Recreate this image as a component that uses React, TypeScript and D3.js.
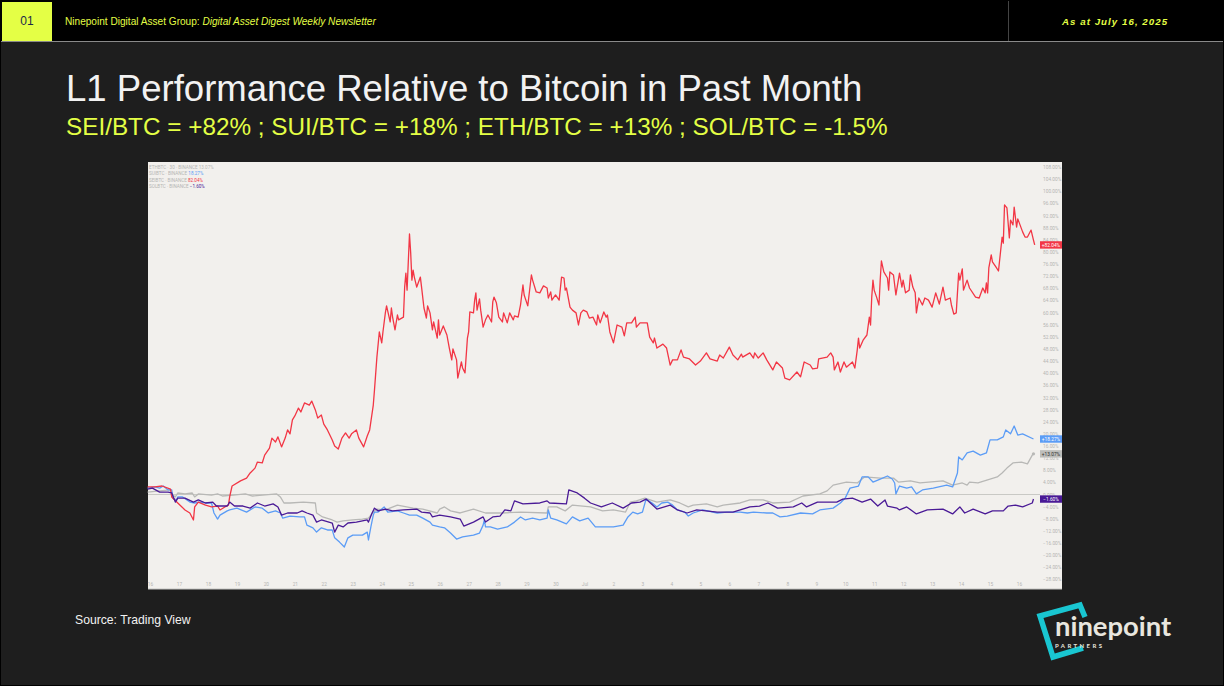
import { useEffect, useRef } from 'react';
import * as d3 from 'd3';

// [hours since Jun 16 00:00 UTC, % change]
const ethPoints: [number, number][] = [
  [-2,0.8],[8,1.2],[17,1.5],[19,-0.2],[21,-0.8],[23,0.5],[29,0.2],[35,0.5],[37,-0.8],[40,0.2],[51,-0.2],[56,0.2],[60,-0.5],[69,-0.2],[79,0.2],[85,-0.5],[105,0.2],[108,-0.8],[111,-2.8],[116,-2.8],[127,-2.5],[137,-2.8],[138,-6.1],[143,-7.4],[151,-8.4],[155,-9.1],[160,-8.7],[168,-8.4],[176,-8.1],[181,-7.8],[185,-5.8],[188,-4.8],[195,-5.1],[205,-3.5],[218,-4.5],[226,-4.8],[238,-6.1],[240,-4.8],[244,-4.1],[249,-5.4],[257,-6.1],[268,-4.8],[278,-6.1],[292,-6.1],[307,-5.8],[329,-6.1],[330,-4.1],[337,-4.1],[344,-5.4],[350,-3.5],[365,-4.1],[375,-5.4],[384,-5.1],[394,-5.8],[398,-2.5],[403,-2.1],[410,-1.2],[420,-2.5],[431,-1.8],[439,-2.8],[446,-4.1],[450,-3.5],[461,-3.1],[470,-4.1],[475,-3.5],[489,-2.8],[497,-1.8],[508,-1.8],[516,-2.8],[530,-2.5],[541,-0.5],[555,0.2],[561,1.2],[566,3.1],[577,4.1],[586,3.8],[592,5.8],[605,5.4],[616,5.4],[620,4.1],[630,4.5],[638,3.8],[657,4.5],[665,3.1],[673,3.8],[677,3.1],[679,4.1],[686,3.8],[694,4.8],[702,5.8],[706,7.1],[710,8.7],[715,10.4],[722,10.7],[727,10.1],[731,13],[732,13.4],
];

const suiPoints: [number, number][] = [
  [-2,2.1],[4,2.5],[8,2.1],[11,2.8],[15,1.5],[18,1.5],[19,-1.2],[22,-1.8],[23,-0.8],[27,-0.8],[33,-2.5],[37,-2.8],[41,-2.5],[47,-2.8],[51,-2.8],[53,-6.1],[56,-8.1],[58,-6.8],[64,-5.4],[66,-5.1],[72,-4.5],[80,-5.8],[87,-4.1],[93,-4.5],[98,-6.1],[104,-5.4],[108,-6.1],[110,-7.8],[116,-7.1],[124,-7.4],[128,-7.4],[130,-10.1],[135,-11],[138,-12.4],[142,-11],[147,-11.7],[151,-11.7],[153,-14.3],[157,-15.7],[161,-17.3],[164,-14.3],[168,-13.4],[176,-13.4],[180,-12.4],[181,-15],[183,-10.7],[185,-6.8],[186,-5.8],[189,-5.8],[194,-4.1],[197,-5.8],[205,-5.4],[210,-6.1],[215,-6.8],[221,-6.8],[226,-7.8],[232,-9.1],[234,-10.1],[240,-10.7],[244,-11],[249,-12.7],[254,-14.7],[259,-14],[268,-13.4],[273,-12.7],[276,-10.1],[277,-8.4],[278,-10.7],[282,-10.7],[288,-11.4],[296,-10.7],[302,-9.1],[307,-7.4],[311,-8.4],[317,-7.8],[323,-8.4],[329,-7.8],[330,-5.1],[332,-7.8],[337,-8.4],[345,-9.7],[350,-7.4],[356,-8.7],[363,-7.8],[369,-10.7],[375,-10.7],[384,-10.7],[392,-10.1],[396,-7.4],[400,-5.8],[404,-6.4],[408,-5.8],[411,-1.5],[416,-2.8],[420,-4.1],[424,-2.8],[429,-2.5],[433,-3.5],[437,-5.1],[443,-5.8],[446,-7.1],[450,-6.1],[458,-5.1],[470,-6.1],[478,-5.8],[489,-5.8],[495,-6.1],[500,-5.8],[511,-6.1],[516,-6.1],[522,-7.4],[528,-7.1],[539,-6.1],[549,-6.4],[555,-5.1],[566,-4.5],[572,-2.8],[576,-1.2],[580,2.1],[587,2.8],[590,5.8],[595,5.8],[599,4.1],[605,5.1],[611,6.1],[615,5.1],[617,3.8],[618,0.2],[621,2.8],[627,2.1],[631,2.5],[635,0.2],[640,1.5],[649,2.1],[660,3.1],[665,2.5],[669,7.1],[670,12.4],[673,11.4],[677,13.7],[682,14.3],[688,13],[693,13.7],[696,18],[702,18],[707,19],[709,21.3],[713,20],[716,22.6],[719,19.6],[723,20],[732,18.3],
];

const seiPoints: [number, number][] = [
  [-2,2.5],[4,2.5],[10,2.8],[17,1.8],[18,-0.8],[23,-2.8],[29,-5.1],[33,-6.1],[36,-8.4],[37,-4.1],[40,-2.5],[46,-3.5],[51,-4.1],[56,-3.8],[58,-5.1],[62,-4.1],[65,-3.5],[66,-0.8],[68,2.8],[75,4.5],[80,5.4],[83,7.1],[87,8.7],[89,10.7],[93,10.4],[95,13],[99,15.3],[101,18.6],[104,17.3],[106,19],[109,15.7],[112,18.6],[114,21.3],[116,20],[118,24.6],[120,25.9],[123,28.5],[125,27.2],[128,30.2],[132,29.5],[134,30.8],[137,27.9],[139,25.2],[142,26.2],[144,23.2],[147,21.3],[151,18],[153,16],[156,15],[159,18.6],[162,20.3],[165,18.6],[167,20],[171,21.3],[173,18.6],[177,15.7],[180,19.3],[182,21.3],[185,29.5],[186,34.5],[188,45.3],[190,53.6],[192,50],[193,53.6],[195,59.9],[196,62.2],[199,56.9],[200,61.5],[201,58.5],[203,54.3],[205,59.2],[206,57.6],[210,58.5],[211,68.4],[212,73],[213,67.4],[215,85.9],[216,79.6],[217,70.7],[218,74],[219,71.7],[221,68.4],[224,71.7],[225,68.4],[227,61.5],[229,58.2],[230,62.2],[232,59.9],[234,54.3],[235,56.9],[238,51.6],[239,57.6],[240,52.6],[243,55.6],[246,52.6],[248,48.3],[250,44.4],[251,48],[254,44.4],[255,38.4],[258,43.7],[259,41.7],[261,40.1],[263,51.6],[264,53.6],[265,60.2],[268,59.9],[269,64.1],[270,66.5],[271,60.8],[273,64.5],[274,60.8],[276,55.2],[278,57.6],[280,59.2],[283,56.9],[284,63.5],[285,65.1],[287,63.2],[289,58.5],[292,56.9],[293,59.9],[296,56.6],[298,59.9],[301,57.6],[302,58.9],[305,58.5],[307,62.5],[309,69.1],[310,65.8],[313,62.2],[316,72.4],[317,70.7],[320,66.8],[323,66.5],[326,68.8],[329,68.1],[330,64.8],[332,66.8],[333,64.1],[336,65.8],[339,64.1],[341,71.7],[343,71.4],[344,67.4],[345,68.1],[348,61.8],[350,60.8],[353,59.9],[355,55.9],[357,59.9],[359,60.8],[362,60.2],[364,58.2],[367,58.5],[370,55.9],[371,59.2],[373,56.6],[376,60.2],[378,58.5],[379,59.2],[381,53.6],[384,50],[387,55.9],[391,55.2],[393,52.3],[395,56.6],[399,56.6],[402,58.5],[403,55.2],[406,56.6],[412,56.6],[414,51.9],[417,50],[418,51.6],[420,48.3],[425,49.6],[428,48.3],[431,42.7],[433,44.4],[437,44.4],[440,47.7],[442,45.3],[447,44.7],[452,42.7],[456,44],[461,46.7],[464,44.7],[470,44],[472,46],[475,45],[480,48.6],[483,46],[487,44.4],[490,46.3],[491,45.3],[497,46.7],[500,45],[501,46.7],[504,45],[508,46.7],[511,44.4],[516,41.1],[519,43.7],[524,41.7],[526,38.4],[530,37.8],[536,40.4],[539,38.8],[542,43.7],[547,42.7],[549,41.4],[553,41.7],[554,44.7],[561,45.3],[564,46.7],[566,45.3],[567,41.1],[570,43.7],[572,40.4],[575,43.7],[577,42],[582,43.7],[584,41.7],[586,47.7],[587,51.6],[588,48.3],[591,51],[594,52.6],[596,58.5],[597,55.9],[598,65.1],[599,70.7],[600,67.4],[602,65.1],[604,62.5],[605,70.7],[606,77],[608,73.4],[611,71.4],[612,67.4],[613,73.4],[616,72.4],[618,65.8],[621,73],[623,68.4],[624,70.7],[626,66.5],[629,67.4],[630,72.4],[632,68.4],[634,66.5],[635,59.9],[637,64.8],[640,62.5],[642,64.8],[645,64.1],[648,61.8],[651,66.5],[654,62.8],[657,68.4],[659,64.1],[663,64.8],[664,62.5],[666,59.5],[668,59.9],[670,73],[671,70.7],[673,74.4],[674,67.4],[677,70.7],[679,68.1],[684,65.1],[687,64.8],[690,68.1],[692,66.5],[693,69.8],[694,66.5],[695,74.7],[697,79],[698,76.7],[701,75],[703,73.7],[706,84.9],[707,82.9],[708,95.5],[710,94.5],[712,84.6],[713,90.5],[715,88.9],[716,94.8],[718,88.2],[719,90.9],[723,86.6],[725,84.9],[727,84.9],[730,87.2],[732,83.9],[733,82.3],
];

const solPoints: [number, number][] = [
  [-2,1.8],[2,2.1],[8,0.8],[15,0.8],[18,0.5],[21,-2.5],[23,-1.2],[29,-1.2],[36,-2.5],[40,-1.8],[46,-2.8],[52,-2.5],[55,-3.8],[64,-3.8],[66,-2.5],[70,-3.8],[77,-3.8],[83,-4.5],[89,-2.8],[95,-3.8],[102,-3.1],[106,-4.1],[109,-6.8],[114,-6.1],[122,-6.1],[126,-5.4],[130,-6.1],[135,-6.8],[138,-9.1],[142,-8.4],[151,-9.4],[153,-12.4],[156,-10.1],[160,-10.7],[164,-9.4],[171,-9.1],[180,-8.4],[181,-9.1],[184,-6.1],[186,-4.5],[189,-5.4],[195,-4.8],[201,-5.4],[210,-5.1],[221,-4.8],[225,-5.8],[232,-6.1],[234,-7.4],[240,-6.8],[249,-7.4],[257,-8.1],[260,-10.4],[268,-9.1],[276,-7.4],[278,-9.1],[284,-7.4],[290,-7.1],[294,-5.1],[299,-5.4],[302,-2.1],[309,-3.1],[323,-2.8],[329,-2.1],[331,-2.8],[345,-3.1],[347,1.5],[354,0.5],[360,-1.2],[365,-2.8],[374,-4.1],[383,-2.8],[392,-4.5],[399,-2.8],[406,-2.5],[411,-1.5],[420,-4.8],[431,-3.5],[437,-5.1],[445,-6.1],[453,-5.1],[470,-5.8],[483,-5.8],[489,-5.1],[497,-4.1],[505,-3.8],[512,-2.8],[520,-4.5],[533,-4.1],[540,-2.8],[544,-4.1],[553,-2.5],[569,-2.5],[574,-1.5],[582,-1.2],[590,-2.5],[597,-1.5],[603,-3.8],[609,-1.8],[611,-3.8],[619,-4.5],[621,-5.1],[627,-4.1],[635,-6.4],[644,-5.1],[657,-4.8],[665,-6.4],[671,-4.1],[675,-6.1],[682,-4.8],[692,-6.4],[698,-5.4],[707,-5.4],[711,-3.8],[717,-3.5],[723,-4.1],[731,-2.8],[732,-1.5],
];

const seriesNames = ['ETHBTC · 30 · BINANCE', 'SUIBTC · BINANCE', 'SEIBTC · BINANCE', 'SOLBTC · BINANCE'];
const lastLabels = ['+13.07%', '+18.27%', '+82.04%', '−1.60%'];
const legendLabels = ['13.07%', '18.27%', '82.04%', '−1.60%'];
const seriesColors = ['#b8b8b6', '#5b9cf6', '#f23645', '#4a1a96'];
const yTicks = d3.range(-28, 109, 4);

const PANEL = { left: 148, right: 1062, top: 162, bottom: 589 };
const YELLOW = '#e4ff45';

const toDate = (h: number) => new Date(Date.UTC(2025, 5, 16, h));

const x = d3
  .scaleUtc()
  .domain([toDate(0), toDate(720)])
  .range([150, 1019]);
const y = d3.scaleLinear().domain([0, 108]).range([494.5, 167]);

const line = d3
  .line<[number, number]>()
  .x((d) => x(toDate(d[0])))
  .y((d) => y(d[1]));

const allSeries = [ethPoints, suiPoints, seiPoints, solPoints];

export default function App() {
  const xAxisRef = useRef<SVGGElement>(null);
  const yAxisRef = useRef<SVGGElement>(null);

  useEffect(() => {
    if (!xAxisRef.current || !yAxisRef.current) return;

    const xAxis = d3
      .axisBottom(x)
      .ticks(d3.utcDay.every(1))
      .tickSize(0)
      .tickPadding(0)
      .tickFormat((d) => {
        const date = d as Date;
        return date.getUTCDate() === 1 ? 'Jul' : String(date.getUTCDate());
      });
    d3.select(xAxisRef.current).call(xAxis as any);

    const yAxis = d3
      .axisRight(y)
      .tickValues(yTicks)
      .tickSize(0)
      .tickPadding(0)
      .tickFormat((d) => `${(d as number) < 0 ? '−' : ''}${Math.abs(d as number).toFixed(2)}%`);
    d3.select(yAxisRef.current).call(yAxis as any);

    for (const ref of [xAxisRef.current, yAxisRef.current]) {
      const g = d3.select(ref);
      g.select('.domain').remove();
      g.attr('font-family', 'Roboto, sans-serif').attr('font-size', 4.8);
      g.selectAll('text').attr('fill', '#b5b5b3');
    }
  }, []);

  return (
    <svg
      width={1224}
      height={686}
      style={{ position: 'absolute', left: 0, top: 0, display: 'block' }}
      fontFamily="'Liberation Sans', Arial, sans-serif"
    >
      <rect width={1224} height={686} fill="#000" />
      <rect x={1} y={1} width={1222} height={684} fill="#1e1e1e" />

      {/* Header */}
      <rect x={1} y={1} width={1222} height={40} fill="#000" />
      <rect x={1} y={41} width={1222} height={1} fill="#8a8a8a" />
      <rect x={2} y={2} width={50} height={39} fill={YELLOW} />
      <rect x={1008} y={1} width={1} height={40} fill="#444" />
      <text x={27} y={25} textAnchor="middle" fontSize={12} fill="#1d2a4a">01</text>
      <text x={65} y={25} fontSize={10.1} fill={YELLOW}>
        Ninepoint Digital Asset Group: <tspan fontStyle="italic">Digital Asset Digest Weekly Newsletter</tspan>
      </text>
      <text x={1062} y={25} fontSize={9.7} fontStyle="italic" fontWeight="bold" letterSpacing={1.05} fill={YELLOW}>
        As at July 16, 2025
      </text>

      {/* Titles */}
      <text x={66} y={101} fontSize={36.55} fill="#f2f2f2">L1 Performance Relative to Bitcoin in Past Month</text>
      <text x={66} y={135} fontSize={24.3} fill={YELLOW}>
        SEI/BTC = +82% ; SUI/BTC = +18% ; ETH/BTC = +13% ; SOL/BTC = -1.5%
      </text>

      {/* Chart panel */}
      <rect
        x={PANEL.left}
        y={PANEL.top}
        width={PANEL.right - PANEL.left}
        height={PANEL.bottom - PANEL.top}
        fill="#f2f0ed"
      />
      <rect x={PANEL.left} y={PANEL.bottom - 0.5} width={PANEL.right - PANEL.left} height={1} fill="#c4c4c2" />
      <line x1={PANEL.left} x2={1040} y1={y(0)} y2={y(0)} stroke="#c9c9c5" strokeWidth={1} />

      <g ref={xAxisRef} transform={`translate(0,${PANEL.bottom - 6})`} />
      <g ref={yAxisRef} transform="translate(1043,0)" />

      <g fill="none" strokeLinejoin="round">
        {allSeries.map((points, i) => (
          <path key={seriesNames[i]} d={line(points) ?? ''} stroke={seriesColors[i]} strokeWidth={1.3} />
        ))}
      </g>
      <circle cx={x(toDate(732))} cy={y(13.4)} r={1.6} fill={seriesColors[0]} />

      {/* Last value tags */}
      {allSeries.map((points, i) => {
        const tagY = y(points[points.length - 1][1]);
        return (
          <g key={lastLabels[i]}>
            <rect x={1040} y={tagY - 3.7} width={22} height={7.4} fill={i === 0 ? '#bdbdba' : seriesColors[i]} />
            <text
              x={1051}
              y={tagY + 1.7}
              textAnchor="middle"
              fontSize={4.8}
              fontFamily="Roboto, sans-serif"
              fill={i === 0 ? '#333' : '#fff'}
            >
              {lastLabels[i]}
            </text>
          </g>
        );
      })}

      {/* Legend */}
      <g fontFamily="Roboto, sans-serif" fontSize={4.6}>
        {seriesNames.map((name, i) => (
          <text key={name} x={149} y={169 + i * 6.3} fill="#b5b5b3">
            {name}{' '}
            <tspan fill={seriesColors[i]}>{legendLabels[i]}</tspan>
          </text>
        ))}
      </g>

      {/* Footer */}
      <text x={75} y={624} fontSize={12.2} fill="#f2f2f2">Source: Trading View</text>

      {/* Logo */}
      <path d="M1085,617 L1080,605 L1040,616 L1053,657 L1083,648" fill="none" stroke="#19c6d1" strokeWidth={5.5} />
      <text x={1055} y={636} fontFamily="Lato, sans-serif" fontSize={27.4} fontWeight={700} fill="#e8e6df">
        ninepoint
      </text>
      <text x={1055} y={647.5} fontFamily="Lato, sans-serif" fontSize={6} fontWeight={700} fill="#e8e6df" letterSpacing={2.4}>
        PARTNERS
      </text>
    </svg>
  );
}
